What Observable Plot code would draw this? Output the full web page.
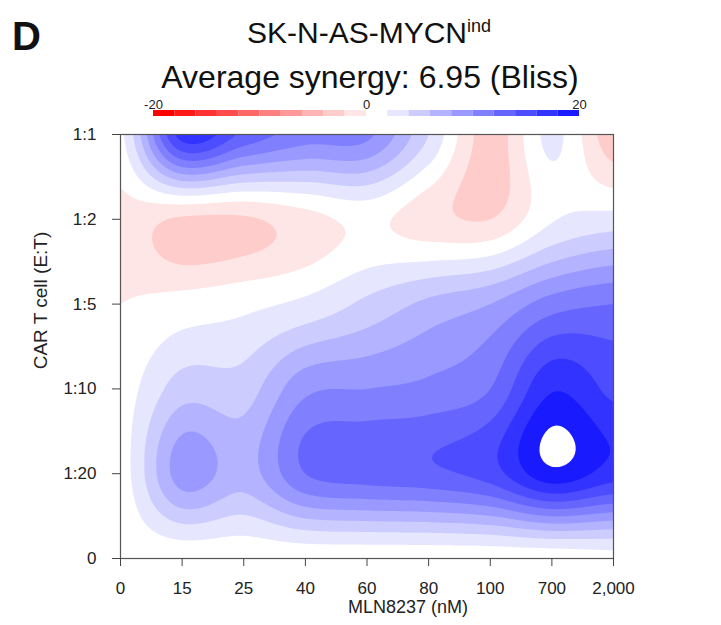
<!DOCTYPE html>
<html>
<head>
<meta charset="utf-8">
<script src="https://cdn.jsdelivr.net/npm/d3@7"></script>
<script src="https://cdn.jsdelivr.net/npm/@observablehq/plot@0.6"></script>
<style>
  body { margin: 0; background: #fff; }
  #wrap { position: relative; width: 721px; height: 625px; font-family: "Liberation Sans", Arial, sans-serif; color: #111; }
  .abs { position: absolute; white-space: nowrap; line-height: 1; }
  #panel { left: 12px; top: 16px; font-size: 40px; font-weight: bold; }
  #title { left: 369px; top: 18px; font-size: 30px; transform: translateX(-50%); }
  #title span { font-size: 18px; position: relative; top: -11px; }
  #subtitle { left: 370px; top: 61px; font-size: 32px; transform: translateX(-50%); }
  #legend { position: absolute; left: 0; top: 94px; }
  #chart { position: absolute; left: 0; top: 124px; }
</style>
</head>
<body>
<div id="wrap">
  <div id="panel" class="abs">D</div>
  <div id="title" class="abs">SK-N-AS-MYCN<span>ind</span></div>
  <div id="subtitle" class="abs">Average synergy: 6.95 (Bliss)</div>
  <div id="legend"></div>
  <div id="chart"></div>
</div>
<script>
// Doses on the x axis (MLN8237, nM) and effector:target ratios on the y axis
const doseLabels = ["0", "15", "25", "40", "60", "80", "100", "700", "2,000"];
const ratioLabels = ["0", "1:20", "1:10", "1:5", "1:2", "1:1"];

// Bliss synergy scores, one array per E:T ratio, ordered by dose
const synergyRatio0    = [0.5, 0.5, 0.5, 0.5, 0.5, 0.5, 0.5, 0.5, 1.0];
const synergyRatio1_20 = [1.0, 9.0, 7.0, 12.0, 13.0, 13.5, 15.0, 19.4, 17.0];
const synergyRatio1_10 = [1.0, 5.0, 5.0, 9.5, 10.0, 10.5, 12.0, 17.8, 15.5];
const synergyRatio1_5  = [0.0, 0.8, 1.5, 2.5, 4.5, 6.5, 8.0, 11.0, 12.0];
const synergyRatio1_2  = [-0.7, -2.3, -2.3, -0.8, 0.5, -1.2, -2.0, 1.8, 2.8];
const synergyRatio1_1  = [1.5, 17.0, 13.5, 11.0, 10.5, 4.0, -3.0, 2.5, -3.5];

// Contour levels and their fills (red = antagonism, blue = synergy)
const levels = [-20, -18, -16, -14, -12, -10, -8, -6, -4, -2, 0, 2, 4, 6, 8, 10, 12, 14, 16, 18, 20];
const palette = [
  "#FF0000", "#FF1A1A", "#FF3333", "#FF4D4D", "#FF6666", "#FF8080", "#FF9999", "#FFB3B3", "#FFCCCC", "#FFE6E6",
  "#FFFFFF", "#E6E6FF", "#CCCCFF", "#B3B3FF", "#9999FF", "#8080FF", "#6666FF", "#4D4DFF", "#3333FF", "#1A1AFF"
];
const legendTicks = [-20, 0, 20];

const grid = [synergyRatio0, synergyRatio1_20, synergyRatio1_10, synergyRatio1_5, synergyRatio1_2, synergyRatio1_1];
const nx = doseLabels.length, ny = ratioLabels.length;

// Smooth surface through the measured grid (Catmull-Rom bicubic, clamped at the edges)
function cubic(p0, p1, p2, p3, t) {
  return p1 + 0.5 * t * (p2 - p0 + t * (2 * p0 - 5 * p1 + 4 * p2 - p3 + t * (3 * (p1 - p2) + p3 - p0)));
}
function at(i, j) {
  return grid[Math.max(0, Math.min(ny - 1, j))][Math.max(0, Math.min(nx - 1, i))];
}
function surface(x, y) {
  const i = Math.min(Math.floor(x), nx - 2), j = Math.min(Math.floor(y), ny - 2);
  const tx = x - i, ty = y - j;
  const r = [-1, 0, 1, 2].map(d => cubic(at(i - 1, j + d), at(i, j + d), at(i + 1, j + d), at(i + 2, j + d), tx));
  return cubic(r[0], r[1], r[2], r[3], ty);
}

const font = "Liberation Sans, Arial, sans-serif";

// Colour key: one block per contour band
const bins = palette.map((c, k) => ({lo: levels[k], hi: levels[k + 1], color: c}));
const legend = Plot.plot({
  width: 721, height: 26,
  marginLeft: 153, marginRight: 142, marginTop: 16, marginBottom: 4,
  style: {fontFamily: font, color: "#222", background: "transparent", overflow: "visible"},
  x: {domain: [-20, 20], axis: null},
  y: {domain: [0, 1], axis: null},
  color: {type: "identity"},
  marks: [
    Plot.rect(bins, {x1: "lo", x2: "hi", y1: 0, y2: 1, fill: "color"}),
    Plot.text(legendTicks, {x: d => d, y: 1, dy: -2, lineAnchor: "bottom", text: d => String(d), fontSize: 13, fill: "#222"})
  ]
});
document.getElementById("legend").append(legend);

const chart = Plot.plot({
  width: 721, height: 501,
  marginTop: 10, marginRight: 108, marginBottom: 67, marginLeft: 120,
  style: {fontFamily: font, color: "#222", background: "transparent", overflow: "visible"},
  x: {domain: [0, nx - 1]},
  y: {domain: [0, ny - 1]},
  color: {type: "threshold", domain: levels.slice(1), range: [...palette, "#FFFFFF"]},
  marks: [
    Plot.contour({fill: surface, x1: 0, y1: 0, x2: nx - 1, y2: ny - 1, thresholds: levels, pixelSize: 1, stroke: "none"}),
    Plot.frame({stroke: "#555", strokeWidth: 1.2}),
    Plot.axisX(d3.range(nx), {tickSize: 8, tickPadding: 15, tickFormat: i => doseLabels[i], label: null, fontSize: 17, stroke: "#444", fill: "#222"}),
    Plot.axisY(d3.range(ny), {tickSize: 8, tickPadding: 16, tickFormat: j => ratioLabels[j], label: null, fontSize: 17, stroke: "#444", fill: "#222"}),
    Plot.text(["MLN8237 (nM)"], {frameAnchor: "bottom", dx: 41, dy: 54, fontSize: 18, fill: "#222"}),
    Plot.text(["CAR T cell (E:T)"], {frameAnchor: "left", rotate: -90, textAnchor: "middle", dx: -80, dy: -46, fontSize: 19, fill: "#222"})
  ]
});
document.getElementById("chart").append(chart);
</script>
</body>
</html>
